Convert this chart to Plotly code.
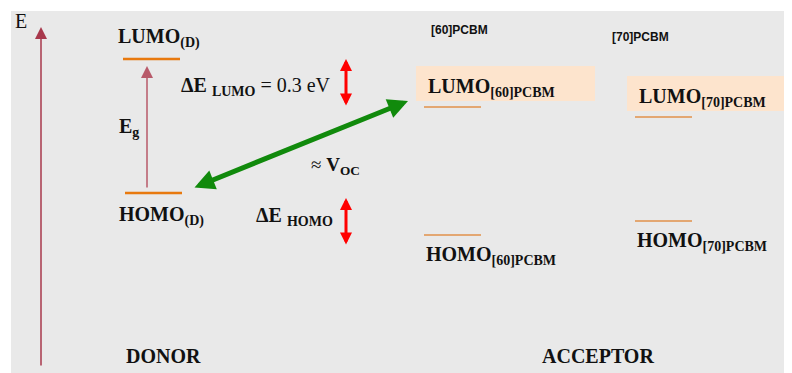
import plotly.graph_objects as go

# diagram coordinates: x = horizontal position, y = energy position (top = higher energy)
level_names = ["LUMO(D)", "HOMO(D)", "LUMO[60]PCBM", "HOMO[60]PCBM", "LUMO[70]PCBM", "HOMO[70]PCBM"]
level_x0 = [123, 125, 424, 424, 635, 635]
level_x1 = [180, 182, 481, 481, 692, 692]
level_y = [59, 193, 107, 235, 117, 221]
level_side = ["donor", "donor", "acceptor", "acceptor", "acceptor", "acceptor"]

# level labels (text, x, y)
label_text = [
    "<b>LUMO<sub>(D)</sub></b>",
    "<b>HOMO<sub>(D)</sub></b>",
    "<b>LUMO<sub>[60]PCBM</sub></b>",
    "<b>HOMO<sub>[60]PCBM</sub></b>",
    "<b>LUMO<sub>[70]PCBM</sub></b>",
    "<b>HOMO<sub>[70]PCBM</sub></b>",
]
label_x = [116, 117, 426, 424, 637, 635]
label_y = [38, 216, 87, 255, 97, 241]

highlight_x0 = [416, 627]
highlight_x1 = [595, 792]
highlight_y0 = [66, 76]
highlight_y1 = [101, 111]

# energy offsets drawn as red double arrows
offset_x = [346, 346]
offset_top = [59, 198]
offset_bottom = [107, 246]

# Voc arrow between HOMO(D) and LUMO[60]PCBM
voc_start = (193, 188)
voc_end = (408, 101)

DONOR_LINE = "#e8790e"
ACC_LINE = "#e0914a"
SERIF = "Liberation Serif, Times New Roman, serif"
SANS = "Liberation Sans, Arial, sans-serif"

# the page body keeps an 8px margin, so the figure starts at (8, 8)
PAGE_OFF = 8

fig = go.Figure()

for side in ["donor", "acceptor"]:
    xs, ys = [], []
    for x0, x1, y, s in zip(level_x0, level_x1, level_y, level_side):
        if s == side:
            xs += [x0, x1, None]
            ys += [y, y, None]
    fig.add_trace(go.Scatter(
        x=xs, y=ys, mode="lines", hoverinfo="skip",
        line=dict(color=DONOR_LINE if side == "donor" else ACC_LINE,
                  width=2.5 if side == "donor" else 1.3),
    ))

shapes = [dict(type="rect", xref="x", yref="y", x0=11, x1=792, y0=11, y1=373,
               fillcolor="#e9e9e9", line=dict(width=0), layer="below")]
for x0, x1, y0, y1 in zip(highlight_x0, highlight_x1, highlight_y0, highlight_y1):
    shapes.append(dict(type="rect", xref="x", yref="y", x0=x0, x1=x1, y0=y0, y1=y1,
                       fillcolor="#fde4cd", line=dict(width=0), layer="below"))

ann = []
for t, x, y in zip(label_text, label_x, label_y):
    ann.append(dict(text=t, x=x, y=y, xanchor="left", yanchor="middle", showarrow=False,
                    font=dict(family=SERIF, size=20, color="#111111")))

def arrow(x0, y0, x1, y1, color, width, size, both=False, head=2):
    ann.append(dict(x=x1, y=y1, ax=x0, ay=y0, xref="x", yref="y", axref="x", ayref="y",
                    text="", showarrow=True, arrowhead=head, startarrowhead=head,
                    arrowside="end+start" if both else "end",
                    arrowwidth=width, arrowsize=size, startarrowsize=size,
                    arrowcolor=color))

# energy axis
arrow(41, 367, 41, 27, "#a8384c", 1.5, 1.6)
# band gap
arrow(147, 189, 147, 66, "#b85a6a", 1.5, 1.6)
# offsets
for x, t, b in zip(offset_x, offset_top, offset_bottom):
    arrow(x, b, x, t, "#ff0000", 3, 0.8, both=True)
# Voc
arrow(voc_start[0], voc_start[1], voc_end[0], voc_end[1], "#118a0c", 5, 0.8, both=True)

texts = [
    ("E", 13, 21, SERIF, 20),
    ("<b>E<sub>g</sub></b>", 117, 127, SERIF, 20),
    ("<b>\u0394E <sub>LUMO</sub></b> = 0.3 eV", 179, 86, SERIF, 20),
    ("<b>\u0394E <sub>HOMO</sub></b>", 254, 216, SERIF, 20),
    ("\u2248 <b>V<sub>OC</sub></b>", 309, 166, SERIF, 19),
    ("<b>[60]PCBM</b>", 429, 30, SANS, 12),
    ("<b>[70]PCBM</b>", 610, 37, SANS, 12),
    ("<b>DONOR</b>", 124, 356, SERIF, 20),
    ("<b>ACCEPTOR</b>", 540, 356, SERIF, 20),
]
for t, x, y, fam, sz in texts:
    ann.append(dict(text=t, x=x, y=y, xanchor="left", yanchor="middle", showarrow=False,
                    font=dict(family=fam, size=sz, color="#111111")))

fig.update_layout(
    width=792 - PAGE_OFF, height=373 - PAGE_OFF, margin=dict(l=0, r=0, t=0, b=0),
    paper_bgcolor="white", plot_bgcolor="white", showlegend=False,
    xaxis=dict(range=[PAGE_OFF, 792], visible=False, fixedrange=True),
    yaxis=dict(range=[373, PAGE_OFF], visible=False, fixedrange=True),
    shapes=shapes, annotations=ann,
)
fig.write_html("out.html")
